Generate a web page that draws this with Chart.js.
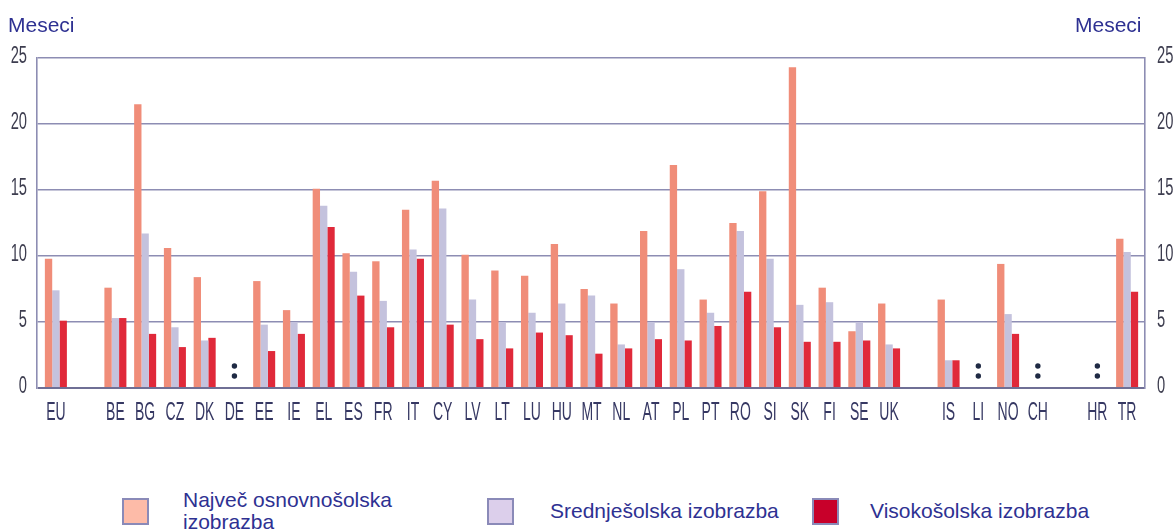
<!DOCTYPE html>
<html>
<head>
<meta charset="utf-8">
<script src="https://cdn.jsdelivr.net/npm/chart.js@4/dist/chart.umd.min.js"></script>
<style>
  body { margin: 0; background: #fff; font-family: "Liberation Sans", Arial, sans-serif; }
  #wrap { position: relative; width: 1175px; height: 532px; overflow: hidden; }
  #chart { position: absolute; left: 0; top: 0; }
  .unit { position: absolute; top: 14px; font-size: 21px; line-height: 21px; color: #2e3192; }
  .swatch { position: absolute; width: 27px; height: 27px; box-sizing: border-box; border: 2px solid #8a8ab8; }
  .ltext { position: absolute; font-size: 21px; line-height: 22px; color: #2e3192; white-space: nowrap; }
</style>
</head>
<body>
<div id="wrap">
  <canvas id="chart" width="1175" height="440"></canvas>
  <div class="unit" style="left:8px">Meseci</div>
  <div class="unit" style="left:1075px">Meseci</div>

  <div class="swatch" style="left:122px; top:498px; background:#fdbba8"></div>
  <div class="ltext" style="left:183px; top:489px">Največ osnovnošolska<br>izobrazba</div>
  <div class="swatch" style="left:487px; top:498px; background:#dccfeb"></div>
  <div class="ltext" style="left:550px; top:500px">Srednješolska izobrazba</div>
  <div class="swatch" style="left:812px; top:498px; background:#c8002a"></div>
  <div class="ltext" style="left:870px; top:500px">Visokošolska izobrazba</div>
</div>
<script>
// --- Data ---
const countries = ['EU', '', 'BE', 'BG', 'CZ', 'DK', 'DE', 'EE', 'IE', 'EL', 'ES', 'FR', 'IT', 'CY',
  'LV', 'LT', 'LU', 'HU', 'MT', 'NL', 'AT', 'PL', 'PT', 'RO', 'SI', 'SK', 'FI', 'SE', 'UK', '',
  'IS', 'LI', 'NO', 'CH', '', 'HR', 'TR'];

const primaryEdu = [9.8, null, 7.6, 21.5, 10.6, 8.4, null, 8.1, 5.9, 15.1, 10.2, 9.6, 13.5, 15.7,
  10.1, 8.9, 8.5, 10.9, 7.5, 6.4, 11.9, 16.9, 6.7, 12.5, 14.9, 24.3, 7.6, 4.3, 6.4, null,
  6.7, null, 9.4, null, null, null, 11.3];

const secondaryEdu = [7.4, null, 5.3, 11.7, 4.6, 3.6, null, 4.8, 5.0, 13.8, 8.8, 6.6, 10.5, 13.6,
  6.7, 5.0, 5.7, 6.4, 7.0, 3.3, 5.0, 9.0, 5.7, 11.9, 9.8, 6.3, 6.5, 5.0, 3.3, null,
  2.1, null, 5.6, null, null, null, 10.3];

const tertiaryEdu = [5.1, null, 5.3, 4.1, 3.1, 3.8, null, 2.8, 4.1, 12.2, 7.0, 4.6, 9.8, 4.8,
  3.7, 3.0, 4.2, 4.0, 2.6, 3.0, 3.7, 3.6, 4.7, 7.3, 4.6, 3.5, 3.5, 3.6, 3.0, null,
  2.1, null, 4.1, null, null, null, 7.3];

const yTickValues = [0, 5, 10, 15, 20, 25];

// countries with no data, shown with ":"
const missing = ['DE', 'LI', 'CH', 'HR'];

const GRID = '#8d8db3';

// squeeze the x range a bit inside the frame, like the original
const shiftX = {
  id: 'shiftX',
  afterLayout(chart) {
    const x = chart.scales.x;
    x.left += 4;
    x.right -= 3;
    x.width = x.right - x.left;
    x.configure();
  }
};

// condensed tick labels (no narrow font installed, so squeeze the text)
function squeezed(ctx, text, px, py, align, size, sx) {
  ctx.save();
  ctx.translate(px, py);
  ctx.scale(sx, 1);
  ctx.font = size + 'px "Liberation Sans", Arial, sans-serif';
  ctx.textAlign = align;
  ctx.fillText(text, 0, 0);
  ctx.restore();
}

const tickLabels = {
  id: 'tickLabels',
  afterDraw(chart) {
    const ctx = chart.ctx;
    const x = chart.scales.x;
    const y = chart.scales.y;
    ctx.save();
    ctx.textBaseline = 'alphabetic';
    ctx.fillStyle = '#363863';
    countries.forEach((c, i) => {
      if (c) squeezed(ctx, c, x.getPixelForValue(i), 420, 'center', 25, 0.56);
    });
    ctx.fillStyle = '#3d3d4f';
    yTickValues.forEach(v => {
      const py = y.getPixelForValue(v) + 4.5;
      // left side ends at 27 / 0.66 in squeezed units
      squeezed(ctx, String(v), 27, py, 'right', 23, 0.64);
      squeezed(ctx, String(v), 1157, py, 'left', 23, 0.64);
    });
    ctx.restore();
  }
};

// draws the ":" marks for missing values
const missingMarks = {
  id: 'missingMarks',
  afterDatasetsDraw(chart) {
    const ctx = chart.ctx;
    const x = chart.scales.x;
    const y0 = chart.scales.y.getPixelForValue(0);
    ctx.save();
    ctx.fillStyle = '#1f2a44';
    missing.forEach(code => {
      const px = x.getPixelForValue(countries.indexOf(code));
      [y0 - 22, y0 - 12].forEach(py => {
        ctx.beginPath();
        ctx.arc(px, py, 2.7, 0, Math.PI * 2);
        ctx.fill();
      });
    });
    ctx.restore();
  }
};

new Chart(document.getElementById('chart'), {
  type: 'bar',
  data: {
    labels: countries,
    datasets: [
      { label: 'Največ osnovnošolska izobrazba', data: primaryEdu, backgroundColor: '#f08d79' },
      { label: 'Srednješolska izobrazba', data: secondaryEdu, backgroundColor: '#c4c2dd' },
      { label: 'Visokošolska izobrazba', data: tertiaryEdu, backgroundColor: '#e0293a' }
    ]
  },
  options: {
    responsive: false,
    animation: false,
    barPercentage: 1.0,
    categoryPercentage: 0.74,
    layout: { padding: { top: 58, left: 0, right: 0, bottom: 0 } },
    plugins: {
      legend: { display: false },
      tooltip: { enabled: false }
    },
    scales: {
      x: {
        grid: { display: false },
        border: { display: false },
        ticks: { display: false, autoSkip: false },
        afterFit: s => { s.height = 52; }
      },
      y: {
        position: 'left',
        min: 0, max: 25,
        ticks: { stepSize: 5, display: false },
        grid: {
          color: c => c.tick.value === 0 ? '#6f6f95' : GRID,
          lineWidth: c => c.tick.value === 0 ? 2 : 1.6,
          drawTicks: false
        },
        border: { display: true, color: GRID, width: 1.6 },
        afterFit: s => { s.width = 37; }
      },
      y2: {
        position: 'right',
        min: 0, max: 25,
        ticks: { stepSize: 5, display: false },
        grid: { display: false, drawTicks: false },
        border: { display: true, color: GRID, width: 1.6 },
        afterFit: s => { s.width = 30; }
      }
    }
  },
  plugins: [shiftX, missingMarks, tickLabels]
});
</script>
</body>
</html>
